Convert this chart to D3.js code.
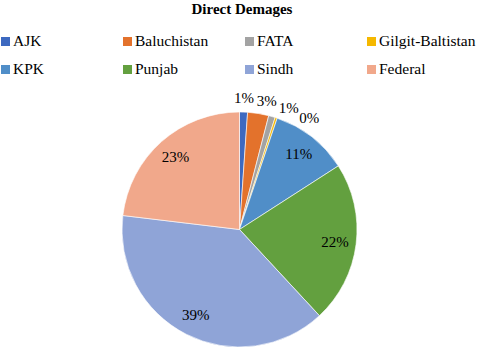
<!DOCTYPE html>
<html>
<head>
<meta charset="utf-8">
<script src="https://cdn.jsdelivr.net/npm/d3@7"></script>
<style>
  body { margin: 0; background: #fff; }
  svg { display: block; font-family: "Liberation Serif", "DejaVu Serif", serif; }
</style>
</head>
<body>
<svg id="chart" width="484" height="347"></svg>
<script>
// values (percent of direct damages)
const regions = ['AJK', 'Baluchistan', 'FATA', 'Gilgit-Baltistan', 'KPK', 'Punjab', 'Sindh', 'Federal'];
const shares = [1.1, 2.9, 0.9, 0.3, 10.7, 22.2, 38.8, 23.1];
const colors = ['#3d69c0', '#e3722c', '#a3a3a3', '#f5b800', '#508ec8', '#63a03f', '#8fa4d7', '#f1a88b'];

const svg = d3.select('#chart');
const width = +svg.attr('width');

const cx = 239.5, cy = 229.5, r = 117.5;

svg.append('text')
    .attr('x', width / 2)
    .attr('y', 14)
    .attr('text-anchor', 'middle')
    .attr('font-size', 15)
    .attr('font-weight', 'bold')
    .text('Direct Demages');

// legend, 4 per row
let legend = svg.append('g');
regions.forEach((name, i) => {
    let col = i % 4, row = Math.floor(i / 4);
    let g = legend.append('g').attr('transform', `translate(${1 + col * 122},${37 + row * 28})`);
    g.append('rect').attr('width', 9).attr('height', 9).attr('fill', colors[i]);
    g.append('text')
        .attr('x', 12)
        .attr('y', 9)
        .attr('font-size', 15.5)
        .text(name);
});

let data = regions.map((name, i) => ({name: name, value: shares[i], color: colors[i]}));

let pie = d3.pie().value(d => d.value).sort(null);
let arc = d3.arc().innerRadius(0).outerRadius(r);
let arcs = pie(data);

let g = svg.append('g').attr('transform', `translate(${cx},${cy})`);

g.selectAll('path')
    .data(arcs)
    .join('path')
    .attr('d', arc)
    .attr('fill', d => d.data.color)
    .attr('stroke', '#fff')
    .attr('stroke-width', 0.6);

// labels: inside for big slices, outside (spread apart) for the small ones
let lastAngle = -Infinity;
const minGap = 10 * Math.PI / 180;
arcs.forEach(d => {
    let mid = (d.startAngle + d.endAngle) / 2;
    let rad;
    if (d.data.value < 5) {
        mid = Math.max(mid, lastAngle + minGap);
        lastAngle = mid;
        rad = r + 14;
    } else {
        rad = r * 0.82;
    }
    g.append('text')
        .attr('x', Math.sin(mid) * rad)
        .attr('y', -Math.cos(mid) * rad)
        .attr('text-anchor', 'middle')
        .attr('dominant-baseline', 'central')
        .attr('font-size', 15)
        .text(Math.round(d.data.value) + '%');
});
</script>
</body>
</html>
